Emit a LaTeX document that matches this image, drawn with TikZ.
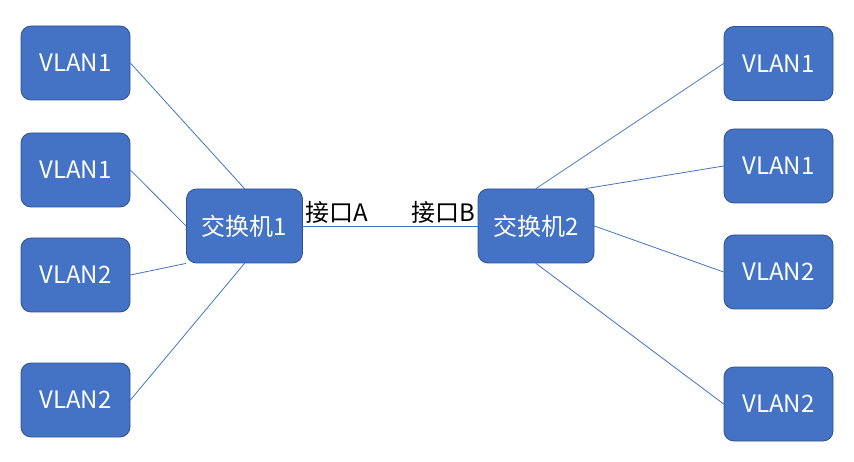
\documentclass[tikz,border=0pt]{standalone}
\usepackage{fontspec}
\setmainfont{Noto Sans CJK SC}
\definecolor{boxblue}{HTML}{4472C4}
\definecolor{boxedge}{HTML}{2F528F}
\begin{document}
\begin{tikzpicture}[x=1pt, y=-1pt, line join=round, line cap=round]
	\tikzset{vlan/.style={draw=boxedge, fill=boxblue, line width=0.8pt, rounded corners=10pt,
			minimum width=109pt, minimum height=74pt, text=white, font=\fontsize{24}{26}\selectfont},
		switch/.style={vlan, minimum width=116pt},
		wire/.style={boxblue, line width=0.8pt},
		port/.style={text=black, font=\fontsize{24}{26}\selectfont, inner sep=2pt}
	}
	\useasboundingbox (0,0) rectangle (854,462);
	% switches
	\node[switch] (sw1) at (244.5,226) {交换机1};
	\node[switch] (sw2) at (536,226) {交换机2};
	% VLAN boxes, left and right
	\foreach \n/\y/\t in {1/63/VLAN1, 2/170/VLAN1, 3/275/VLAN2, 4/400/VLAN2}
		\node[vlan] (l\n) at (75.5,\y) {\t};
	\foreach \n/\y/\t in {1/63.5/VLAN1, 2/166/VLAN1, 3/272/VLAN2, 4/404/VLAN2}
		\node[vlan] (r\n) at (778.5,\y) {\t};
	% links
	\draw[wire] (l1.east) -- (sw1.north);
	\draw[wire] (l2.east) -- (sw1.west);
	\draw[wire] (l3.east) -- (sw1.south west);
	\draw[wire] (l4.east) -- (sw1.south);
	\draw[wire] (sw2.north) -- (r1.west);
	\draw[wire] (sw2.37) -- (r2.west);
	\draw[wire] (sw2.east) -- (r3.west);
	\draw[wire] (sw2.south) -- (r4.west);
	\draw[wire] (sw1.east) -- node[port, pos=0, above right] {接口A}
		node[port, pos=1, above left] {接口B} (sw2.west);
\end{tikzpicture}
\end{document}
